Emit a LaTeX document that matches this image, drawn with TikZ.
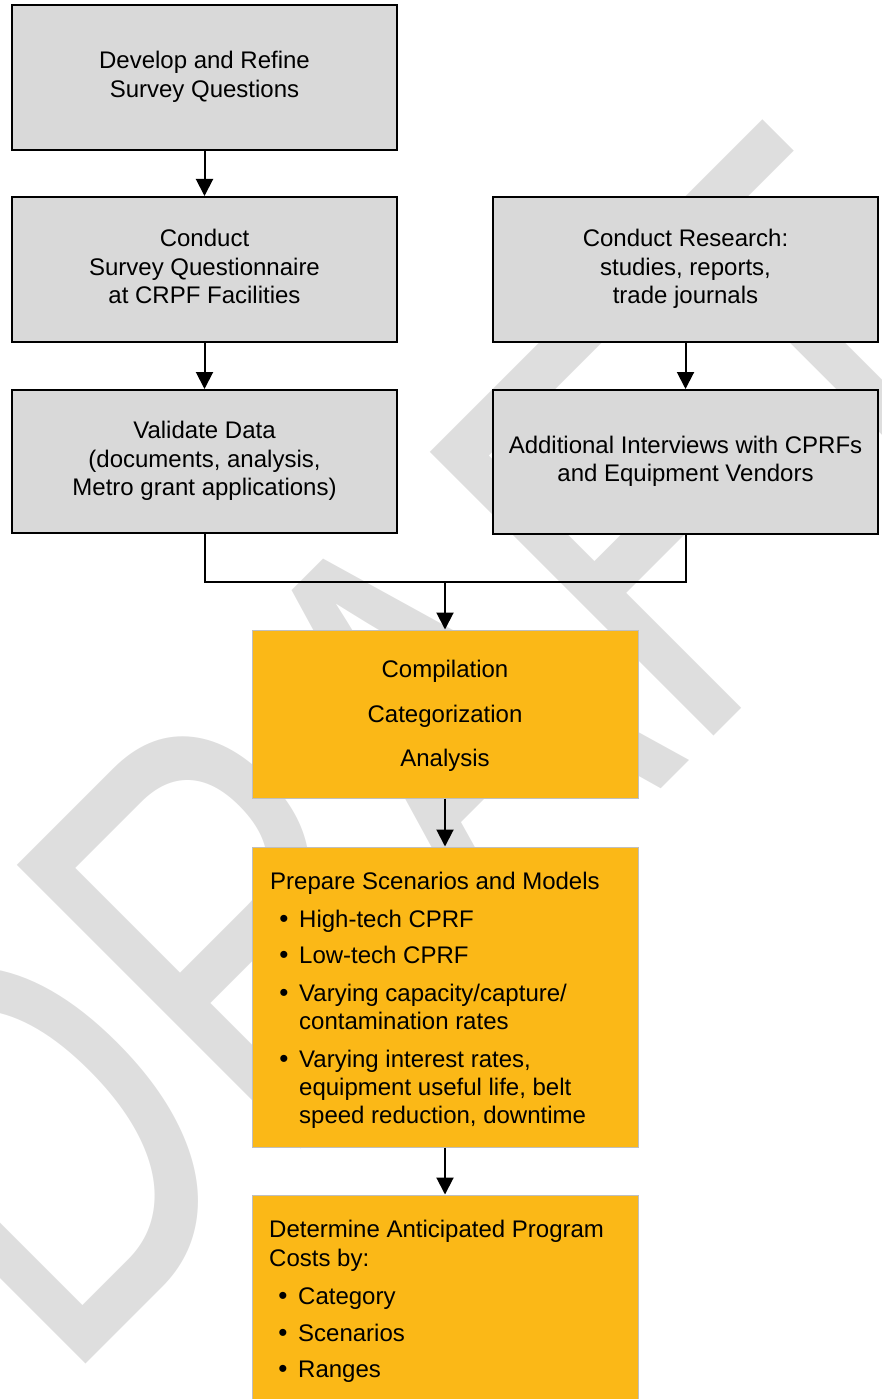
\documentclass[tikz,border=0pt]{standalone}
\usepackage{fontspec}
\setmainfont{Liberation Sans}
\usepackage{graphicx}
\usetikzlibrary{arrows.meta}
\definecolor{gfill}{HTML}{D9D9D9}
\definecolor{ofill}{HTML}{FBB817}
\definecolor{obord}{HTML}{BFBFBF}
\definecolor{wmark}{HTML}{DEDEDE}
\newcommand{\boxfont}{\fontsize{24}{28.5}\selectfont}
\begin{document}
\begin{tikzpicture}[x=1pt,y=-1pt,
  wm/.style={rotate=45, anchor=base west, inner sep=0pt, text=wmark, font=\fontsize{540}{540}\selectfont},
  gbox/.style={draw=black, line width=2pt, fill=gfill, minimum width=385pt, minimum height=145pt, inner sep=0pt, align=center, font=\boxfont},
  obox/.style={draw=obord, line width=1pt, fill=ofill, minimum width=386pt, inner sep=0pt},
  ltxt/.style={inner sep=0pt, anchor=base west, font=\boxfont},
  ctxt/.style={inner sep=0pt, anchor=base, font=\boxfont},
  bul/.style={inner sep=0pt, anchor=base, font=\fontsize{26}{28}\selectfont},
  arr/.style={-{Triangle[width=17pt,length=17pt]}, line width=2pt},
  conn/.style={line width=2pt}
]
\useasboundingbox (0,0) rectangle (881,1399);
\clip (0,0) rectangle (881,1399);

% watermark
\node[wm] (draft) at (61,1389) {\scalebox{0.78}[1.08]{DRAFT}};

% gray boxes
\node[gbox] (dev) at (204.5,77.5) {\strut Develop and Refine\\Survey Questions\strut};
\node[gbox] (cond) at (204.5,269.5) {\strut Conduct\\Survey Questionnaire\\at CRPF Facilities\strut};
\node[gbox, minimum height=143pt] (val) at (204.5,461.5) {\strut Validate Data\\(documents, analysis,\\Metro grant applications)\strut};
\node[gbox] (res) at (685.5,269.5) {\strut Conduct Research:\\studies, reports,\\trade journals\strut};
\node[gbox, minimum height=144pt] (add) at (685.5,462) {\strut Additional Interviews with CPRFs\\and Equipment Vendors\strut};

% orange boxes
\node[obox, minimum height=168pt] (comp) at (445,714) {};
\node[obox, minimum height=300pt] (prep) at (445,997) {};
\node[obox, minimum height=230pt] (det) at (445,1310) {};

% compilation texts
\node[ctxt] (c1) at (445,677) {Compilation};
\node[ctxt] (c2) at (445,722) {Categorization};
\node[ctxt] (c3) at (445,766) {Analysis};

% prepare texts
\node[ltxt] (p0) at (270,889) {Prepare Scenarios and Models};
\node[bul] (pb1) at (284,927) {•};
\node[ltxt] (p1) at (299,927) {High-tech CPRF};
\node[bul] (pb2) at (284,963) {•};
\node[ltxt] (p2) at (299,963) {Low-tech CPRF};
\node[bul] (pb3) at (284,1001) {•};
\node[ltxt] (p3a) at (299,1001) {Varying capacity/capture/};
\node[ltxt] (p3b) at (299,1029) {contamination rates};
\node[bul] (pb4) at (284,1067) {•};
\node[ltxt] (p4a) at (299,1067) {Varying interest rates,};
\node[ltxt] (p4b) at (299,1095) {equipment useful life, belt};
\node[ltxt] (p4c) at (299,1123) {speed reduction, downtime};

% determine texts
\node[ltxt] (d0) at (269,1237) {Determine Anticipated Program};
\node[ltxt] (d0b) at (269,1266) {Costs by:};
\node[bul] (db1) at (283,1304) {•};
\node[ltxt] (d1) at (298,1304) {Category};
\node[bul] (db2) at (283,1341) {•};
\node[ltxt] (d2) at (298,1341) {Scenarios};
\node[bul] (db3) at (283,1377) {•};
\node[ltxt] (d3) at (298,1377) {Ranges};

% connectors
\draw[arr] (dev.south) -- (cond.north);
\draw[arr] (cond.south) -- (val.north);
\draw[arr] (res.south) -- (add.north);
\coordinate (mrg) at (445,582);
\draw[conn] (val.south) -- (val.south |- mrg) -- (add.south |- mrg) -- (add.south);
\draw[arr] (mrg) -- (comp.north);
\draw[arr] (comp.south) -- (prep.north);
\draw[arr] (prep.south) -- (det.north);
\end{tikzpicture}
\end{document}
